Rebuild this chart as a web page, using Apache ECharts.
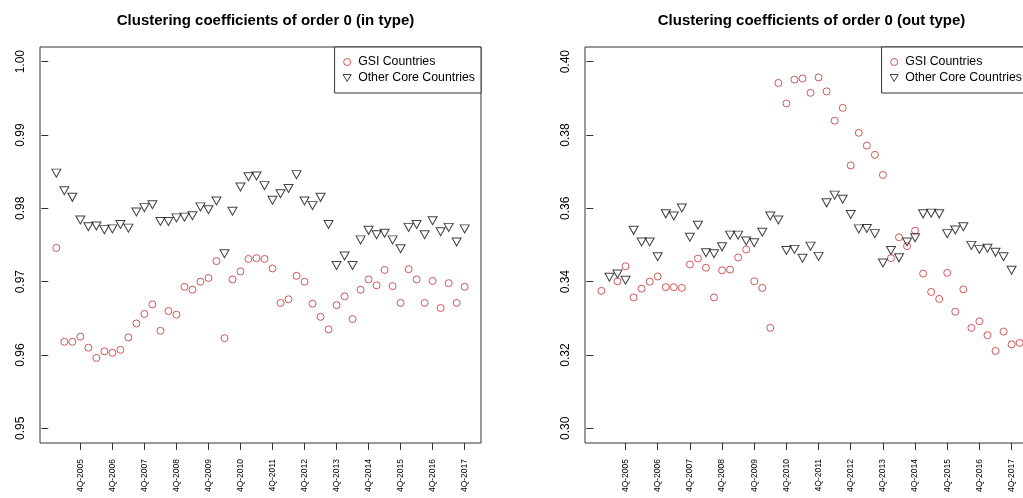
<!DOCTYPE html>
<html>
<head>
<meta charset="utf-8">
<script src="https://cdn.jsdelivr.net/npm/echarts@6/dist/echarts.min.js"></script>
<style>
html,body{margin:0;padding:0;overflow:hidden;background:#fff;}
#c{width:1030px;height:498px;}
</style>
</head>
<body>
<div id="c"></div>
<script>
// ---- data ----
const quarters = [
 '1Q-2005','2Q-2005','3Q-2005','4Q-2005','1Q-2006','2Q-2006','3Q-2006','4Q-2006',
 '1Q-2007','2Q-2007','3Q-2007','4Q-2007','1Q-2008','2Q-2008','3Q-2008','4Q-2008',
 '1Q-2009','2Q-2009','3Q-2009','4Q-2009','1Q-2010','2Q-2010','3Q-2010','4Q-2010',
 '1Q-2011','2Q-2011','3Q-2011','4Q-2011','1Q-2012','2Q-2012','3Q-2012','4Q-2012',
 '1Q-2013','2Q-2013','3Q-2013','4Q-2013','1Q-2014','2Q-2014','3Q-2014','4Q-2014',
 '1Q-2015','2Q-2015','3Q-2015','4Q-2015','1Q-2016','2Q-2016','3Q-2016','4Q-2016',
 '1Q-2017','2Q-2017','3Q-2017','4Q-2017','1Q-2018'
];
const seriesNames = ['GSI Countries', 'Other Core Countries'];
const titles = ['Clustering coefficients of order 0 (in type)', 'Clustering coefficients of order 0 (out type)'];

const inGSI = [
 0.9746,0.9618,0.9618,0.9625,0.9610,0.9596,0.9605,0.9603,0.9607,0.9624,
 0.9643,0.9656,0.9669,0.9633,0.9660,0.9655,0.9693,0.9689,0.9700,0.9705,
 0.9728,0.9623,0.9703,0.9714,0.9731,0.9732,0.9731,0.9718,0.9671,0.9676,
 0.9708,0.9700,0.9670,0.9652,0.9635,0.9668,0.9680,0.9649,0.9689,0.9703,
 0.9695,0.9716,0.9694,0.9671,0.9717,0.9703,0.9671,0.9701,0.9664,0.9698,
 0.9671,0.9693
];
const inOther = [
 0.9848,0.9824,0.9815,0.9784,0.9775,0.9776,0.9771,0.9772,0.9778,0.9773,
 0.9795,0.9801,0.9805,0.9782,0.9782,0.9787,0.9788,0.9790,0.9802,0.9798,
 0.9810,0.9738,0.9796,0.9829,0.9843,0.9844,0.9831,0.9811,0.9820,0.9827,
 0.9846,0.9810,0.9804,0.9815,0.9778,0.9722,0.9735,0.9722,0.9757,0.9770,
 0.9764,0.9766,0.9757,0.9745,0.9774,0.9778,0.9764,0.9783,0.9768,0.9774,
 0.9754,0.9772
];
const outGSI = [
 0.3375,null,0.3401,0.3442,0.3357,0.3381,0.3400,0.3414,0.3385,0.3385,
 0.3383,0.3447,0.3463,0.3438,0.3357,0.3431,0.3433,0.3466,0.3488,0.3401,
 0.3383,0.3274,0.3942,0.3886,0.3951,0.3954,0.3915,0.3957,0.3919,0.3839,
 0.3874,0.3717,0.3806,0.3771,0.3746,0.3691,0.3464,0.3521,0.3497,0.3539,
 0.3422,0.3372,0.3353,0.3424,0.3318,0.3379,0.3274,0.3292,0.3254,0.3211,
 0.3264,0.3229,0.3233
];
const outOther = [
 null,0.3412,0.3421,0.3404,0.3540,0.3508,0.3508,0.3468,0.3585,0.3579,
 0.3601,0.3521,0.3554,0.3479,0.3476,0.3495,0.3527,0.3527,0.3511,0.3506,
 0.3535,0.3579,0.3568,0.3485,0.3488,0.3464,0.3497,0.3469,0.3615,0.3636,
 0.3625,0.3583,0.3544,0.3545,0.3531,0.3451,0.3485,0.3465,0.3508,0.3520,
 0.3585,0.3587,0.3585,0.3531,0.3541,0.3550,0.3499,0.3488,0.3491,0.3480,
 0.3468,0.3431
];
const yTicksIn = [0.95,0.96,0.97,0.98,0.99,1.00];
const yTicksOut = [0.30,0.32,0.34,0.36,0.38,0.40];

// ---- build ----
const FONT = '"Liberation Sans", Arial, Helvetica, sans-serif';
const TRI = 'path://M0,0L10,0L5,8.66Z';
const nIdx = 52;
const xTicks = quarters.map((q,i)=> (q.indexOf('4Q')===0 && i < nIdx) ? i+1 : null).filter(v=>v!==null);
const pad = 0.04*(nIdx-1);
const pts = arr => arr.map((v,i)=>[i+1,v]).filter(p=>p[1]!==null);

const grids = [
  {left:40, top:47, width:441, height:396},
  {left:585, top:47, width:443, height:396}
];
const yRanges = [[0.95,1.00],[0.30,0.40]];
const yTickSets = [yTicksIn, yTicksOut];

function xAxis(gi){
  return {
    type:'value', gridIndex:gi, min:1-pad, max:nIdx+pad,
    axisLine:{show:false}, splitLine:{show:false},
    axisTick:{show:true, length:7, customValues:xTicks, lineStyle:{color:'#333'}},
    axisLabel:{show:true, customValues:xTicks, rotate:90, margin:16, fontSize:8.5,
      fontFamily:FONT, color:'#000', formatter:v=>quarters[Math.round(v)-1]}
  };
}
function yAxis(gi){
  const r = yRanges[gi], ext = (r[1]-r[0])*0.04;
  return {
    type:'value', gridIndex:gi, min:r[0]-ext, max:r[1]+ext,
    axisLine:{show:false}, splitLine:{show:false},
    axisTick:{show:true, length:7, customValues:yTickSets[gi], lineStyle:{color:'#333'}},
    axisLabel:{show:true, customValues:yTickSets[gi], rotate:90, margin:13, fontSize:12,
      fontFamily:FONT, color:'#000', formatter:v=>v.toFixed(2)}
  };
}
const circleStyle = {color:'rgba(0,0,0,0)', borderColor:'#c43030', borderWidth:1};
const triStyle = {color:'rgba(0,0,0,0)', borderColor:'#111', borderWidth:1};
function sc(name, gi, data, isTri){
  return {
    type:'scatter', name:name, xAxisIndex:gi, yAxisIndex:gi, data:pts(data),
    symbol: isTri ? TRI : 'circle',
    symbolSize: isTri ? [9,8] : 7,
    itemStyle: isTri ? triStyle : circleStyle,
    silent:true, animation:false
  };
}
const gridCenters = grids.map(g=>g.left + g.width/2);

const option = {
  animation:false,
  backgroundColor:'#fff',
  title: titles.map((t,i)=>({
    text:t, left:gridCenters[i], top:8, textAlign:'center',
    textStyle:{fontSize:15, fontWeight:'bold', fontFamily:FONT, color:'#000'}
  })),
  legend: [0,1].map(i=>({
    data:[{name:seriesNames[0], icon:'circle'}, {name:seriesNames[1], icon:TRI}],
    orient:'vertical', right: 1030-(grids[i].left+grids[i].width), top:47,
    padding:[9,6,9,8], itemGap:4, itemWidth:12, itemHeight:7, symbolKeepAspect:true,
    itemStyle:{borderWidth:1},
    borderColor:'#333', borderWidth:1, backgroundColor:'#fff',
    textStyle:{fontSize:12.3, fontFamily:FONT, color:'#000'},
    selectedMode:false
  })),
  grid: grids.map(g=>Object.assign({show:true, borderColor:'#333', borderWidth:1, backgroundColor:'rgba(0,0,0,0)'}, g)),
  xAxis:[xAxis(0), xAxis(1)],
  yAxis:[yAxis(0), yAxis(1)],
  series:[
    sc(seriesNames[0],0,inGSI,false),
    sc(seriesNames[1],0,inOther,true),
    sc(seriesNames[0],1,outGSI,false),
    sc(seriesNames[1],1,outOther,true)
  ]
};
const chart = echarts.init(document.getElementById('c'), null, {renderer:'canvas'});
chart.setOption(option);
</script>
</body>
</html>
